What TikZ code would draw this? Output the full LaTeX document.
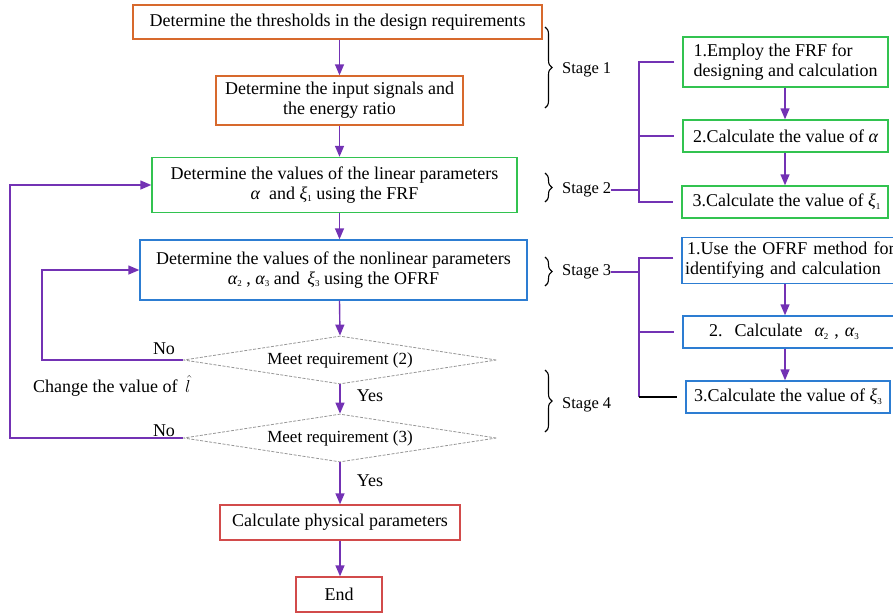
\documentclass[tikz,border=0pt]{standalone}
\usepackage{fontspec}
\setmainfont{Liberation Serif}
\usetikzlibrary{shapes.geometric,arrows.meta,decorations.pathreplacing,calc}
\definecolor{cor}{RGB}{215,105,45}
\definecolor{cgr}{RGB}{50,195,80}
\definecolor{cbl}{RGB}{45,125,210}
\definecolor{crd}{RGB}{210,75,75}
\definecolor{cpu}{RGB}{115,50,180}
\definecolor{cdi}{RGB}{150,150,150}
\newcommand\myal{{\itshape α}}
\newcommand\myxi{{\itshape ξ}}
\newcommand\mysub[1]{\raisebox{-0.3ex}{\fontsize{9}{9}\selectfont #1}}
\begin{document}
\begin{tikzpicture}[x=1pt,y=-1pt,
  font=\fontsize{18}{20}\selectfont,
  box/.style={draw,line width=1.4pt,inner sep=0pt,align=center},
  obox/.style={box,draw=cor},
  gbox/.style={box,draw=cgr},
  bbox/.style={box,draw=cbl},
  rbox/.style={box,draw=crd},
  dia/.style={diamond,draw=cdi,dashed,dash pattern=on 3pt off 1.5pt,line width=0.8pt,aspect=6.5,inner sep=0pt,minimum width=313pt,minimum height=48pt,font=\fontsize{17}{19}\selectfont},
  arr/.style={draw=cpu,line width=1.4pt,-{Triangle[length=11pt,width=9pt]},color=cpu},
  ln/.style={draw=cpu,line width=1.4pt},
  brc/.style={decorate,decoration={brace,amplitude=7pt},line width=1.1pt},
  lbl/.style={inner sep=0pt},
  stg/.style={inner sep=0pt,anchor=west,font=\fontsize{16.5}{18}\selectfont}]
\useasboundingbox (0,0) rectangle (893,614);
% main column
\node[obox,minimum width=409pt,minimum height=34pt] (b1) at (337.5,22) {Determine the thresholds in the design requirements};
\node[obox,minimum width=247pt,minimum height=49pt] (b2) at (339.5,100.5) {Determine the input signals and\\the energy ratio};
\node[gbox,minimum width=365pt,minimum height=55pt] (b3) at (334.5,185) {Determine the values of the linear parameters\\\myal\ \ and \myxi\mysub{1} using the FRF};
\node[bbox,minimum width=387pt,minimum height=60pt] (b4) at (333.5,270) {Determine the values of the nonlinear parameters\\\myal\mysub{2} , \myal\mysub{3} and\, \myxi\mysub{3} using the OFRF};
\node[dia] (d1) at (340,360) {Meet requirement (2)};
\node[dia] (d2) at (340,438) {Meet requirement (3)};
\node[rbox,minimum width=240pt,minimum height=35pt] (b5) at (340,522.5) {Calculate physical parameters};
\node[rbox,minimum width=86pt,minimum height=35pt] (b6) at (339,594.5) {End};
\draw[arr] (b1.south -| b2.north) -- (b2.north);
\draw[arr] (b2.south) -- (b2.south |- b3.north);
\draw[arr] (b2.south |- b3.south) -- (b2.south |- b4.north);
\draw[arr] (b2.south |- b4.south) -- (d1.north);
\draw[arr] (d1.south) -- (d2.north);
\draw[arr] (d2.south) -- (d2.south |- b5.north);
\draw[arr] (b5.south) -- (b5.south |- b6.north);
% loops
\coordinate (lx1) at (42,0);
\coordinate (lx2) at (10,0);
\draw[arr] (d1.west) -- (d1.west -| lx1) -- (lx1 |- b4.west) -- (b4.west);
\draw[arr] (d2.west) -- (d2.west -| lx2) -- (lx2 |- b3.west) -- (b3.west);
\node[lbl] (no1) at (164,349) {No};
\node[lbl] (no2) at (164,431) {No};
\node[lbl,anchor=west] (chg) at (33,386) {Change the value of\, $\hat{l}$};
\node[lbl] (y1) at (370,396) {Yes};
\node[lbl] (y2) at (370,481) {Yes};
% braces
\coordinate (br1a) at (545,27); \coordinate (br1b) at (545,108);
\coordinate (br2a) at (545,173); \coordinate (br2b) at (545,202);
\coordinate (br3a) at (545,257); \coordinate (br3b) at (545,286);
\coordinate (br4a) at (545,370); \coordinate (br4b) at (545,432);
\draw[brc] (br1a) -- (br1b);
\draw[brc] (br2a) -- (br2b);
\draw[brc] (br3a) -- (br3b);
\draw[brc] (br4a) -- (br4b);
\node[stg] (s1) at (562,70) {Stage 1};
\node[stg] (s2) at (562,190) {Stage 2};
\node[stg] (s3) at (562,272) {Stage 3};
\node[stg] (s4) at (562,405) {Stage 4};
% right column
\node[gbox,minimum width=205pt,minimum height=50pt,align=left] (r1) at (785.5,62) {1.Employ the FRF for\\designing and calculation};
\node[gbox,minimum width=205pt,minimum height=32pt] (r2) at (785.5,136) {2.Calculate the value of \myal};
\node[gbox,minimum width=206pt,minimum height=32pt] (r3) at (785,202) {\,3.Calculate the value of \myxi\mysub{1}};
\node[bbox,minimum width=222pt,minimum height=46pt,align=left,text width=216pt] (r4) at (793,260.5) {\hspace*{2pt}1.Use the OFRF method for\\identifying and calculation};
\node[bbox,minimum width=222pt,minimum height=32pt,text width=214pt] (r5) at (794,332) {\hspace*{-20pt}2.\ \ Calculate\ \ \myal\mysub{2} , \myal\mysub{3}};
\node[bbox,minimum width=204pt,minimum height=32pt] (r6) at (788,397) {3.Calculate the value of \myxi\mysub{3}};
\coordinate (ax) at (785,0);
\draw[arr] (ax |- r1.south) -- (ax |- r2.north);
\draw[arr] (ax |- r2.south) -- (ax |- r3.north);
\draw[arr] (ax |- r4.south) -- (ax |- r5.north);
\draw[arr] (ax |- r5.south) -- (ax |- r6.north);
% stage brackets
\coordinate (vx) at (639,0);
\coordinate (t3) at (0,258);
\draw[ln] (s2.east) -- (s2.east -| vx);
\draw[ln] ($(r1.west)+(-8,0)$) -- (vx |- r1.west) -- (vx |- r3.west) -- ($(r3.west)+(-8,0)$);
\draw[ln] (vx |- r2.west) -- ($(r2.west)+(-8,0)$);
\draw[ln] (s3.east) -- (s3.east -| vx);
\draw[ln] ($(r4.west |- t3)+(-8,0)$) -- (vx |- t3) -- (vx |- r6.west);
\draw[ln] (vx |- r5.west) -- ($(r5.west)+(-8,0)$);
\draw[line width=1.4pt] (vx |- r6.west) -- ($(r6.west)+(-8,0)$);
\end{tikzpicture}
\end{document}
